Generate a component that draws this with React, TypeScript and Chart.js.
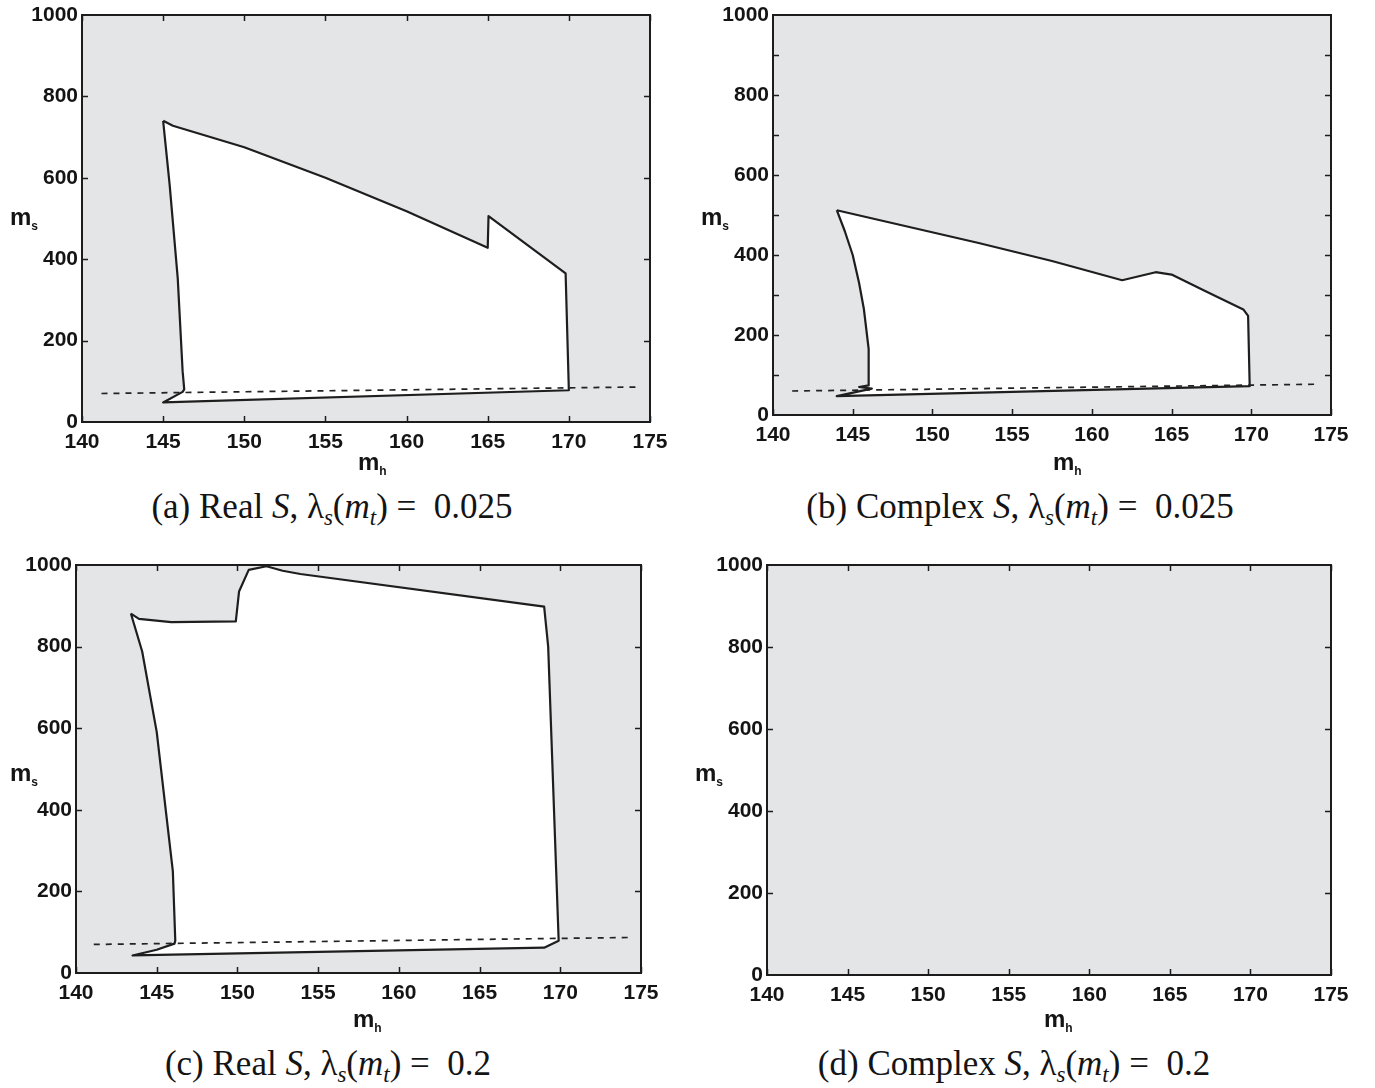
import React, { useEffect, useRef } from 'react';
import { Chart, registerables } from 'chart.js';

Chart.register(...registerables);

// Axis ranges and tick values (Higgs mass m_h vs. singlet mass m_s)
const mhRange = [140, 175];
const msRange = [0, 1000];
const mhTickValues = [140, 145, 150, 155, 160, 165, 170, 175];
const msTickValues = [0, 200, 400, 600, 800, 1000];
const msFineTickValues = [0, 100, 200, 300, 400, 500, 600, 700, 800, 900, 1000];

// (a) Real S, lambda_s(m_t) = 0.025 : boundary of the allowed region
const realLowMh = [145.0, 145.6, 150.0, 155.0, 160.0, 165.0, 165.05, 169.8, 170.0, 145.0, 146.2, 146.3, 146.2, 145.9, 145.4, 145.0];
const realLowMs = [740, 728, 675, 600, 518, 428, 506, 365, 78, 48, 74, 80, 125, 353, 583, 740];
const realLowCutMh = [141.2, 174.3];
const realLowCutMs = [70, 86];

// (b) Complex S, lambda_s(m_t) = 0.025
const complexLowMh = [144.0, 152.9, 157.5, 161.9, 164.0, 165.0, 167.2, 169.5, 169.8, 169.9, 144.0, 146.2, 145.4, 146.0, 146.0, 145.7, 145.4, 145.0, 144.5, 144.0];
const complexLowMs = [512, 430, 385, 337, 357, 351, 308, 264, 248, 72, 47, 66, 70, 74, 165, 265, 330, 400, 460, 512];
const complexLowCutMh = [141.2, 174.3];
const complexLowCutMs = [60, 77];

// (c) Real S, lambda_s(m_t) = 0.2
const realHighMh = [143.4, 143.9, 145.9, 149.9, 150.1, 150.7, 151.8, 152.8, 153.9, 169.0, 169.25, 169.9, 169.0, 143.5, 145.0, 146.1, 146.15, 146.0, 145.6, 145.0, 144.1, 143.4];
const realHighMs = [881, 868, 860, 862, 935, 988, 997, 986, 978, 898, 800, 79, 62, 43, 57, 72, 79, 249, 386, 591, 788, 881];
const realHighCutMh = [141.1, 174.2];
const realHighCutMs = [70, 87];

// (d) Complex S, lambda_s(m_t) = 0.2 : no allowed region

const toPoints = (xs: number[], ys: number[]) => xs.map((x, i) => ({ x, y: ys[i] }));

const tickFont = { family: '"Liberation Sans", Arial, Helvetica, sans-serif', weight: 'bold' as const, size: 21 };

type PanelSpec = {
  id: string;
  left: number;
  top: number;
  right: number;
  bottom: number;
  region: { x: number; y: number }[] | null;
  cut: { x: number; y: number }[] | null;
  yMarks: number[];
  topMarks: boolean;
};

const PAD_TOP = 20;
const PAD_RIGHT = 30;
const Y_AXIS_W = 80;
const X_AXIS_H = 40;

function Panel({ spec }: { spec: PanelSpec }) {
  const ref = useRef<HTMLCanvasElement | null>(null);
  const w = spec.right - spec.left + Y_AXIS_W + PAD_RIGHT;
  const h = spec.bottom - spec.top + PAD_TOP + X_AXIS_H;

  useEffect(() => {
    if (!ref.current) return;
    const frame = {
      id: 'frame' + spec.id,
      beforeDraw(chart: any) {
        const { ctx, chartArea: a } = chart;
        ctx.save();
        ctx.fillStyle = '#e4e5e7';
        ctx.fillRect(a.left, a.top, a.right - a.left, a.bottom - a.top);
        ctx.restore();
      },
      afterDraw(chart: any) {
        const { ctx, chartArea: a, scales } = chart;
        const len = 6;
        ctx.save();
        ctx.strokeStyle = '#1c1c1c';
        ctx.lineWidth = 1.5;
        ctx.beginPath();
        for (const v of mhTickValues) {
          const px = Math.round(scales.x.getPixelForValue(v)) + 0.5;
          ctx.moveTo(px, a.bottom);
          ctx.lineTo(px, a.bottom - len);
          if (spec.topMarks) {
            ctx.moveTo(px, a.top);
            ctx.lineTo(px, a.top + len);
          }
        }
        for (const v of spec.yMarks) {
          const py = Math.round(scales.y.getPixelForValue(v)) + 0.5;
          ctx.moveTo(a.left, py);
          ctx.lineTo(a.left + len, py);
          ctx.moveTo(a.right, py);
          ctx.lineTo(a.right - len, py);
        }
        ctx.stroke();
        ctx.lineWidth = 2;
        ctx.strokeRect(a.left, a.top, a.right - a.left, a.bottom - a.top);
        ctx.restore();
      },
    };

    const datasets: any[] = [];
    if (spec.cut) {
      datasets.push({
        data: spec.cut,
        borderColor: '#222',
        borderWidth: 1.7,
        borderDash: [6, 6],
        pointRadius: 0,
        fill: false,
        tension: 0,
      });
    }
    if (spec.region) {
      datasets.push({
        data: spec.region,
        borderColor: '#1e1e1e',
        borderWidth: 2.2,
        backgroundColor: '#ffffff',
        pointRadius: 0,
        fill: 'shape',
        tension: 0,
        borderJoinStyle: 'round',
      });
    }

    const chart = new Chart(ref.current, {
      type: 'line',
      data: { datasets },
      plugins: [frame],
      options: {
        animation: false,
        responsive: false,
        devicePixelRatio: 1,
        layout: { padding: { left: 0, top: PAD_TOP, right: PAD_RIGHT, bottom: 0 } },
        plugins: { legend: { display: false }, tooltip: { enabled: false } },
        scales: {
          x: {
            type: 'linear',
            min: mhRange[0],
            max: mhRange[1],
            afterBuildTicks: (s: any) => {
              s.ticks = mhTickValues.map((v) => ({ value: v }));
            },
            afterFit: (s: any) => {
              s.height = X_AXIS_H;
            },
            ticks: { font: tickFont, color: '#141414', padding: 8, maxRotation: 0, autoSkip: false, callback: (v: any) => String(v) },
            grid: { display: false, drawTicks: false },
            border: { display: false },
          },
          y: {
            type: 'linear',
            min: msRange[0],
            max: msRange[1],
            afterBuildTicks: (s: any) => {
              s.ticks = msTickValues.map((v) => ({ value: v }));
            },
            afterFit: (s: any) => {
              s.width = Y_AXIS_W;
            },
            ticks: { font: tickFont, color: '#141414', padding: 4, autoSkip: false, callback: (v: any) => String(v) },
            grid: { display: false, drawTicks: false },
            border: { display: false },
          },
        },
      } as any,
    });
    return () => chart.destroy();
  }, []);

  return (
    <canvas
      ref={ref}
      width={w}
      height={h}
      style={{ position: 'absolute', left: spec.left - Y_AXIS_W, top: spec.top - PAD_TOP, width: w, height: h }}
    />
  );
}

const panels: PanelSpec[] = [
  { id: 'a', left: 82, top: 15, right: 650, bottom: 422, region: toPoints(realLowMh, realLowMs), cut: toPoints(realLowCutMh, realLowCutMs), yMarks: [200, 400, 600, 800], topMarks: true },
  { id: 'b', left: 773, top: 15, right: 1331, bottom: 415, region: toPoints(complexLowMh, complexLowMs), cut: toPoints(complexLowCutMh, complexLowCutMs), yMarks: msFineTickValues.slice(1, -1), topMarks: false },
  { id: 'c', left: 76, top: 565, right: 641, bottom: 973, region: toPoints(realHighMh, realHighMs), cut: toPoints(realHighCutMh, realHighCutMs), yMarks: [200, 400, 600, 800], topMarks: true },
  { id: 'd', left: 767, top: 565, right: 1331, bottom: 975, region: null, cut: null, yMarks: [200, 400, 600, 800], topMarks: true },
];

const axisTitle: React.CSSProperties = {
  position: 'absolute',
  fontFamily: '"Liberation Sans", Arial, Helvetica, sans-serif',
  fontWeight: 'bold',
  fontSize: 24,
  lineHeight: '26px',
  color: '#141414',
  whiteSpace: 'nowrap',
};
const subStyle: React.CSSProperties = { fontSize: 12, verticalAlign: '-5px' };

const captionStyle: React.CSSProperties = {
  position: 'absolute',
  width: 600,
  textAlign: 'center',
  fontFamily: '"Liberation Serif", "Times New Roman", serif',
  fontSize: 35,
  lineHeight: '40px',
  color: '#141414',
  whiteSpace: 'nowrap',
};
const capSub: React.CSSProperties = { fontSize: 23, verticalAlign: '-7px', lineHeight: 0 };

function Caption({ letter, kind, value, cx, cy }: { letter: string; kind: string; value: string; cx: number; cy: number }) {
  return (
    <div style={{ ...captionStyle, left: cx - 300, top: cy - 21 }}>
      ({letter}) {kind} <i>S</i>, λ<i style={capSub}>s</i>(<i>m<span style={capSub}>t</span></i>) =&nbsp; {value}
    </div>
  );
}

export default function App() {
  return (
    <div style={{ position: 'absolute', left: 0, top: 0, width: 1375, height: 1088, background: '#ffffff', overflow: 'hidden' }}>
      {panels.map((p) => (
        <Panel key={p.id} spec={p} />
      ))}

      <div style={{ ...axisTitle, left: 10, top: 204 }}>m<span style={subStyle}>s</span></div>
      <div style={{ ...axisTitle, left: 701, top: 204 }}>m<span style={subStyle}>s</span></div>
      <div style={{ ...axisTitle, left: 10, top: 760 }}>m<span style={subStyle}>s</span></div>
      <div style={{ ...axisTitle, left: 695, top: 760 }}>m<span style={subStyle}>s</span></div>

      <div style={{ ...axisTitle, left: 358, top: 449 }}>m<span style={subStyle}>h</span></div>
      <div style={{ ...axisTitle, left: 1053, top: 449 }}>m<span style={subStyle}>h</span></div>
      <div style={{ ...axisTitle, left: 353, top: 1006 }}>m<span style={subStyle}>h</span></div>
      <div style={{ ...axisTitle, left: 1044, top: 1006 }}>m<span style={subStyle}>h</span></div>

      <Caption letter="a" kind="Real" value="0.025" cx={332} cy={508} />
      <Caption letter="b" kind="Complex" value="0.025" cx={1020} cy={508} />
      <Caption letter="c" kind="Real" value="0.2" cx={328} cy={1065} />
      <Caption letter="d" kind="Complex" value="0.2" cx={1014} cy={1065} />
    </div>
  );
}
